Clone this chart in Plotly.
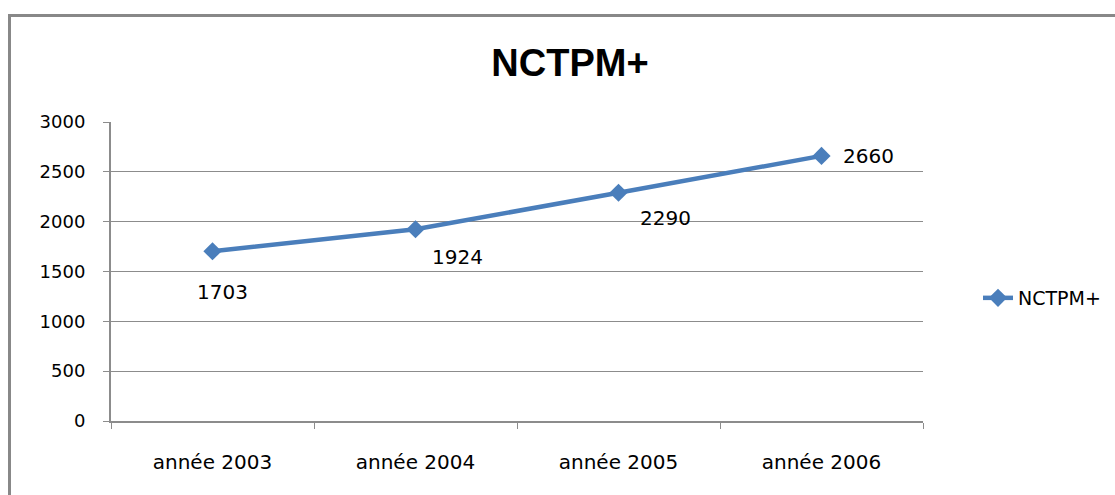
import plotly.graph_objects as go

categories = ["année 2003", "année 2004", "année 2005", "année 2006"]
values = [1703, 1924, 2290, 2660]
labels = ["1703", "1924", "2290", "2660"]
series_name = "NCTPM+"
y_ticks = [0, 500, 1000, 1500, 2000, 2500, 3000]

# label offsets (px) mimicking Excel data label placement
label_offsets = [(10, -41), (42, -28), (47, -25), (47, 0)]

font_family = "DejaVu Sans, sans-serif"
blue = "#4A7EBB"
grid = "#8C8C8C"

fig = go.Figure()
fig.add_trace(go.Scatter(
    x=categories, y=values, name=series_name, mode="lines+markers",
    line=dict(color=blue, width=4.5),
    marker=dict(symbol="diamond", size=14, color=blue),
))

for c, v, t, (dx, dy) in zip(categories, values, labels, label_offsets):
    fig.add_annotation(x=c, y=v, text=t, showarrow=False, xshift=dx, yshift=dy,
                       font=dict(family=font_family, size=20, color="#000"))

fig.add_shape(type="rect", xref="paper", yref="paper",
              x0=(10.5 - 112) / 812, x1=(1130 - 112) / 812,
              y0=(421 - 510) / 299, y1=(421 - 15.5) / 299,
              line=dict(color="#888888", width=3), layer="below")

fig.update_layout(
    width=1115, height=495,
    margin=dict(l=111, r=192, t=122, b=74, autoexpand=False),
    paper_bgcolor="white", plot_bgcolor="white",
    font=dict(family=font_family, size=18, color="#000"),
    title=dict(text="<b>NCTPM+</b>", x=(570 - 111) / 812, xref="paper", xanchor="center",
               y=1 - 63 / 495, yanchor="middle",
               font=dict(family="Liberation Sans, sans-serif", size=38, color="#000")),
    showlegend=True,
    legend=dict(x=(978 - 111) / 812, y=(421 - 298) / 299, xanchor="left", yanchor="middle",
                font=dict(size=19), bgcolor="rgba(0,0,0,0)"),
    xaxis=dict(type="category", range=[-0.5, 3.5], tickson="boundaries",
               ticks="outside", ticklen=6, tickcolor=grid, showline=True,
               linecolor=grid, linewidth=2, showgrid=False,
               tickfont=dict(size=20), ticklabelstandoff=22),
    yaxis=dict(range=[0, 3000], tickvals=y_ticks, ticks="outside", ticklen=6,
               tickcolor=grid, showline=True, linecolor=grid, linewidth=2,
               showgrid=True, gridcolor=grid, gridwidth=1, zeroline=False,
               tickfont=dict(size=18), ticklabelstandoff=14),
)

fig.write_html("out.html", config={"displayModeBar": False},
               post_script="document.body.style.margin='0';")
